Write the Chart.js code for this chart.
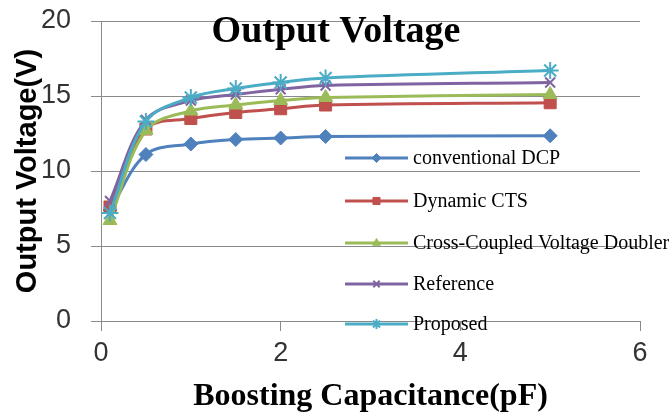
<!DOCTYPE html>
<html>
<head>
<meta charset="utf-8">
<script src="https://cdn.jsdelivr.net/npm/chart.js@4"></script>
<style>
  html, body { margin: 0; padding: 0; background: #ffffff; }
  #wrap { width: 669px; height: 414px; }
</style>
</head>
<body>
<div id="wrap"><canvas id="c" width="669" height="414"></canvas></div>
<script>
// ---- data ----
const capacitance = [0.1, 0.5, 1, 1.5, 2, 2.5, 5];
const seriesNames = ["conventional DCP", "Dynamic CTS", "Cross-Coupled Voltage Doubler", "Reference", "Proposed"];
const conventionalDCP = [7.4, 11.1, 11.8, 12.1, 12.2, 12.3, 12.35];
const dynamicCTS      = [7.6, 12.8, 13.5, 13.9, 14.15, 14.4, 14.55];
const crossCoupled    = [6.7, 12.7, 14.0, 14.4, 14.7, 14.9, 15.1];
const referenceSeries = [8.0, 13.4, 14.7, 15.1, 15.45, 15.7, 15.9];
const proposed        = [7.2, 13.3, 14.9, 15.5, 15.9, 16.2, 16.7];
const xTicks = [0, 2, 4, 6];
const yTicks = [0, 5, 10, 15, 20];
const chartTitle = "Output Voltage";
const xTitle = "Boosting Capacitance(pF)";
const yTitle = "Output Voltage(V)";

// ---- styles ----
const colors = ["#4F81BD", "#C0504D", "#9BBB59", "#8064A2", "#4BACC6"];
const styles = ["rectRot", "rect", "triangle", "crossRot", "star"];
const radii = [7, 8.5, 8, 7, 8.5];
const legendRadii = [4.5, 5, 4.5, 4.5, 5];
const allSeries = [conventionalDCP, dynamicCTS, crossCoupled, referenceSeries, proposed];
const gridColor = "#8a8a8a";

const datasets = allSeries.map((vals, i) => ({
  label: seriesNames[i],
  data: vals.map((v, k) => ({ x: capacitance[k], y: v })),
  borderColor: colors[i],
  backgroundColor: colors[i],
  borderWidth: 3,
  tension: 0.35,
  pointStyle: styles[i],
  pointRadius: radii[i],
  pointBorderWidth: (styles[i] === "crossRot" || styles[i] === "star") ? 2 : 1,
  pointBackgroundColor: colors[i],
  pointBorderColor: colors[i],
  order: allSeries.length - i,
  clip: false
}));

const overlayPlugin = {
  id: "overlay",
  afterDraw(chart) {
    const ctx = chart.ctx;
    ctx.save();
    // chart title drawn over the plot, like the reference
    ctx.fillStyle = "#000";
    ctx.font = "bold 38px 'Liberation Serif', 'Times New Roman', serif";
    ctx.textAlign = "center";
    ctx.textBaseline = "alphabetic";
    ctx.fillText(chartTitle, 336, 42);

    // legend inside the plot area
    const rowsY = [158, 201, 243, 284, 324];
    const lineX0 = 345, lineX1 = 408, textX = 413;
    ctx.font = "20px 'Liberation Serif', 'Times New Roman', serif";
    ctx.textAlign = "left";
    ctx.textBaseline = "middle";
    chart.data.datasets.forEach((ds, i) => {
      const y = rowsY[i];
      ctx.strokeStyle = ds.borderColor;
      ctx.lineWidth = 3;
      ctx.beginPath();
      ctx.moveTo(lineX0, y);
      ctx.lineTo(lineX1, y);
      ctx.stroke();
      ctx.fillStyle = ds.backgroundColor;
      ctx.strokeStyle = ds.borderColor;
      ctx.lineWidth = ds.pointBorderWidth;
      Chart.helpers.drawPoint(ctx, {
        pointStyle: ds.pointStyle, radius: legendRadii[i], rotation: 0, borderWidth: ds.pointBorderWidth
      }, (lineX0 + lineX1) / 2, y);
      ctx.fillStyle = "#000";
      ctx.fillText(ds.label, textX, y + 1);
    });
    ctx.restore();
  }
};

new Chart(document.getElementById("c"), {
  type: "line",
  data: { datasets },
  options: {
    responsive: false,
    animation: false,
    devicePixelRatio: 1,
    layout: { padding: { top: 21, right: 29, bottom: 0, left: 0 } },
    plugins: { legend: { display: false }, tooltip: { enabled: false }, title: { display: false } },
    scales: {
      x: {
        type: "linear",
        min: 0, max: 6,
        afterBuildTicks: (s) => { s.ticks = xTicks.map(v => ({ value: v })); },
        afterFit: (s) => { s.height = 93; s.paddingLeft = 0; s.paddingRight = 0; },
        grid: { display: true, drawOnChartArea: false, drawTicks: true, tickLength: 10, color: gridColor, lineWidth: 1 },
        border: { display: true, color: gridColor, width: 1 },
        ticks: { color: "#333", padding: 6, font: { family: "'Liberation Sans', Arial, sans-serif", size: 27 } },
        title: {
          display: true, text: xTitle, color: "#000",
          font: { family: "'Liberation Serif', 'Times New Roman', serif", size: 32, weight: "bold", lineHeight: 1.2 },
          padding: { top: 0, bottom: -2 }
        }
      },
      y: {
        type: "linear",
        min: 0, max: 20,
        afterBuildTicks: (s) => { s.ticks = yTicks.map(v => ({ value: v })); },
        afterFit: (s) => { s.width = 101; s.paddingTop = 0; s.paddingBottom = 0; },
        grid: { display: true, drawOnChartArea: true, drawTicks: true, tickLength: 10, color: gridColor, lineWidth: 1 },
        border: { display: true, color: gridColor, width: 1 },
        ticks: { color: "#333", padding: 20, font: { family: "'Liberation Sans', Arial, sans-serif", size: 27 } },
        title: {
          display: true, text: yTitle, color: "#000",
          font: { family: "'Liberation Sans', Arial, sans-serif", size: 29, weight: "bold", lineHeight: 1.2 },
          padding: { top: 11, bottom: 0 }
        }
      }
    }
  },
  plugins: [overlayPlugin]
});
</script>
</body>
</html>
